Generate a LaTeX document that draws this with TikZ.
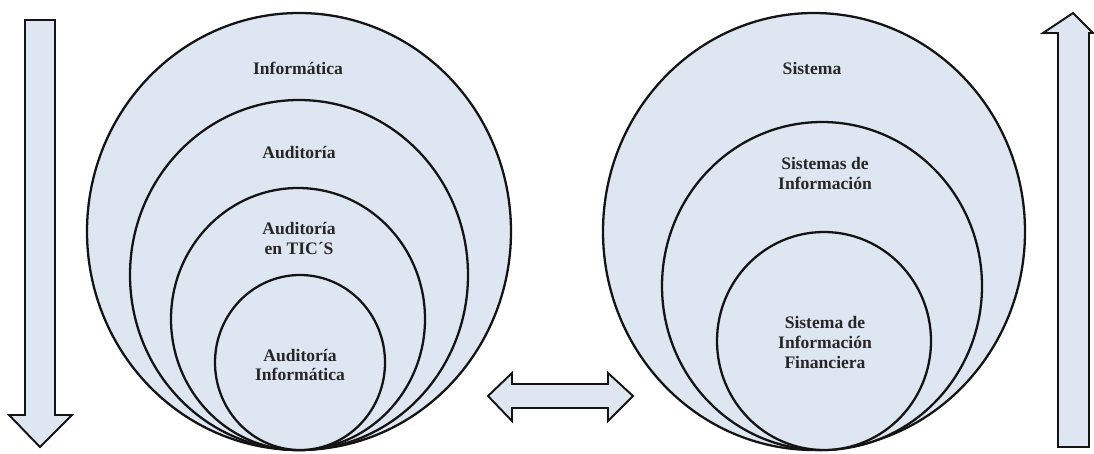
\documentclass[tikz,border=0pt]{standalone}
\usepackage{fontspec}
\setmainfont{Liberation Serif}
\definecolor{paleblue}{RGB}{221,230,241}
\definecolor{inkline}{RGB}{20,20,20}
\tikzset{
  ring/.style={draw=inkline, line width=1.3pt, fill=paleblue},
  bigarrow/.style={draw=inkline, line width=1.1pt, fill=paleblue, line join=miter},
  lbl/.style={font=\bfseries\fontsize{10}{11.2}\selectfont, align=center, text=black!85, inner sep=0pt}
}
\begin{document}
\begin{tikzpicture}[x=0.02cm, y=-0.02cm]
  \useasboundingbox (0,0) rectangle (1094,453);

  % down arrow on the left
  \draw[bigarrow] (25,20) -- (55,20) -- (55,415) -- (72,415) -- (40,447)
        -- (9,415) -- (25,415) -- cycle;

  % up arrow on the right
  \draw[bigarrow] (1058,447) -- (1089,447) -- (1089,33) -- (1093,33) -- (1073,13)
        -- (1043,33) -- (1058,33) -- cycle;

  % double arrow between the two groups
  \draw[bigarrow] (488,396) -- (512,373) -- (512,384) -- (608,384) -- (608,373)
        -- (633,396) -- (608,421) -- (608,408) -- (512,408) -- (512,421) -- cycle;

  % left group of nested ellipses
  \draw[ring] (299,231.5) ellipse [x radius=212, y radius=218.5];
  \draw[ring] (299,275) ellipse [x radius=169, y radius=175];
  \draw[ring] (298,319) ellipse [x radius=127, y radius=131];
  \draw[ring] (300,362.5) ellipse [x radius=85, y radius=87.5];

  \node[lbl] (informatica) at (298,68) {Informática};
  \node[lbl] (auditoria) at (299,153) {Auditoría};
  \node[lbl] (tics) at (299,238.5) {Auditoría\\en TIC´S};
  \node[lbl] (audinfo) at (300,365) {Auditoría\\Informática};

  % right group of nested ellipses
  \draw[ring] (814,231.5) ellipse [x radius=211, y radius=218.5];
  \draw[ring] (822,286) ellipse [x radius=160, y radius=164];
  \draw[ring] (824,341) ellipse [x radius=107, y radius=109];

  \node[lbl] (sistema) at (812,68) {Sistema};
  \node[lbl] (sisinfo) at (825,173.5) {Sistemas de\\Información};
  \node[lbl] (sisfin) at (825,342.5) {Sistema de\\Información\\Financiera};
\end{tikzpicture}
\end{document}
